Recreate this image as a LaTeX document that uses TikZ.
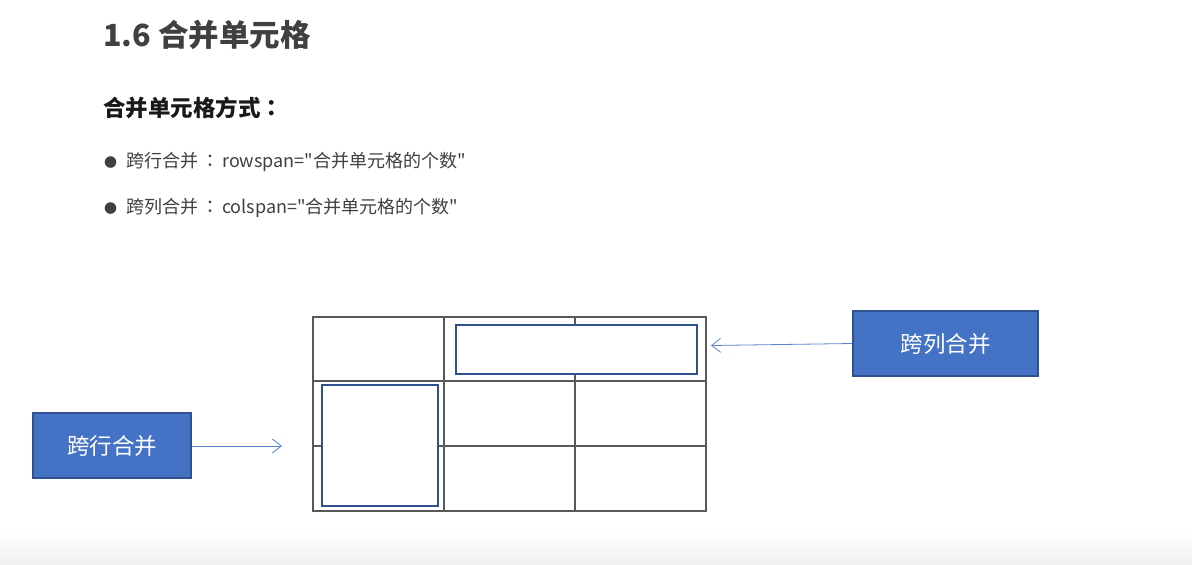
\documentclass[tikz,border=0pt]{standalone}
\usepackage{fontspec}
\setmainfont{Noto Sans CJK SC}
\newfontfamily\cjk{Noto Sans CJK SC}
\newfontfamily\cjktc{Noto Sans CJK TC}
\usetikzlibrary{arrows.meta}
\definecolor{boxfill}{HTML}{4472C4}
\definecolor{boxedge}{HTML}{2F528F}
\definecolor{gridc}{HTML}{595959}
\definecolor{txtgray}{HTML}{404040}
\definecolor{arrc}{HTML}{5B83C9}
\newcommand{\fwcolon}{{\cjktc ：}}
\newcommand{\bulcolon}{\hspace{3pt}{\cjktc ：}\hspace{3pt}}
\newcommand{\bulmark}{{\fontsize{13}{15}\selectfont ●}\hspace{9pt}}
\tikzset{
  bluebox/.style={draw=boxedge, line width=1.2pt, fill=boxfill, text=white, inner sep=0pt, font=\cjk\fontsize{22.5}{26}\selectfont},
  mergebox/.style={draw=boxedge, line width=2pt, fill=white},
  gridline/.style={draw=gridc, line width=1.4pt},
  conn/.style={draw=arrc, line width=0.8pt, -{Straight Barb[length=9pt,width=14pt,line width=0.8pt]}},
  bul/.style={anchor=base west, inner sep=0pt, text=txtgray, font=\cjk\fontsize{18}{21}\selectfont}
}
\begin{document}
\begin{tikzpicture}[x=1pt,y=-1pt]
\useasboundingbox (0,0) rectangle (1192,565);
\fill[white] (0,0) rectangle (1192,565);
\shade[top color=white, bottom color=black!6] (0,530) rectangle (1192,565);
% headings
\node[anchor=base west, inner sep=0pt, text=txtgray, font=\cjk\bfseries\fontsize{30.5}{34}\selectfont] (title) at (103,46) {1.6 合并单元格};
\node[anchor=base west, inner sep=0pt, text=black!90, font=\cjk\bfseries\fontsize{22.5}{26}\selectfont] (sub) at (103,116) {合并单元格方式\fwcolon};
\node[bul] (b1) at (104,167) {\bulmark 跨行合并\bulcolon rowspan="合并单元格的个数"};
\node[bul] (b2) at (104,213) {\bulmark 跨列合并\bulcolon colspan="合并单元格的个数"};
% grid
\coordinate (g1) at (313,317);
\coordinate (g2) at (706,511);
\draw[gridline] (g1) rectangle (g2);
\draw[gridline] (444,317) -- (444,511);
\draw[gridline] (575,317) -- (575,511);
\draw[gridline] (313,381) -- (706,381);
\draw[gridline] (313,446) -- (706,446);
% merged cells
\node[mergebox, minimum width=241pt, minimum height=49pt, inner sep=0pt] (colm) at (576.5,349) {};
\node[mergebox, minimum width=116pt, minimum height=121pt, inner sep=0pt] (rowm) at (380,445) {};
% labels
\node[bluebox, minimum width=158pt, minimum height=65pt] (rowlab) at (112,445.5) {跨行合并};
\node[bluebox, minimum width=185pt, minimum height=65pt] (collab) at (945.5,343.5) {跨列合并};
\coordinate (rowend) at (282,446);
\coordinate (colend) at (711,345.5);
\draw[conn] (rowlab.east |- rowend) -- (rowend);
\draw[conn] (collab.west) -- (colend);
\end{tikzpicture}
\end{document}
